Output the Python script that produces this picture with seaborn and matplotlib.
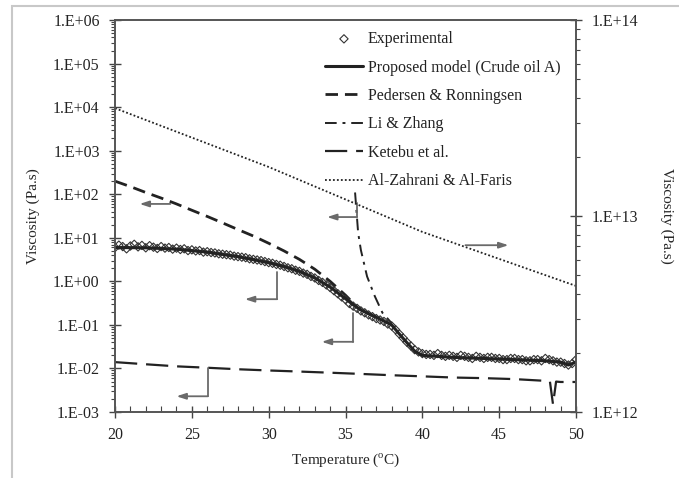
import numpy as np
import pandas as pd
import seaborn as sns
import matplotlib.pyplot as plt
from matplotlib.patches import Rectangle
from matplotlib.ticker import LogLocator, MultipleLocator, NullFormatter

# experimental viscosity of crude oil A (Pa.s) vs temperature (C)
exp_T = [20.0, 20.25, 20.5, 20.75, 21.0, 21.25, 21.5, 21.75, 22.0, 22.25,
         22.5, 22.75, 23.0, 23.25, 23.5, 23.75, 24.0, 24.25, 24.5, 24.75,
         25.0, 25.25, 25.5, 25.75, 26.0, 26.25, 26.5, 26.75, 27.0, 27.25,
         27.5, 27.75, 28.0, 28.25, 28.5, 28.75, 29.0, 29.25, 29.5, 29.75,
         30.0, 30.25, 30.5, 30.75, 31.0, 31.25, 31.5, 31.75, 32.0, 32.25,
         32.5, 32.75, 33.0, 33.25, 33.5, 33.75, 34.0, 34.25, 34.5, 34.75,
         35.0, 35.25, 35.5, 35.75, 36.0, 36.25, 36.5, 36.75, 37.0, 37.25,
         37.5, 37.75, 38.0, 38.25, 38.5, 38.75, 39.0, 39.25, 39.5, 39.75,
         40.0, 40.25, 40.5, 40.75, 41.0, 41.25, 41.5, 41.75, 42.0, 42.25,
         42.5, 42.75, 43.0, 43.25, 43.5, 43.75, 44.0, 44.25, 44.5, 44.75,
         45.0, 45.25, 45.5, 45.75, 46.0, 46.25, 46.5, 46.75, 47.0, 47.25,
         47.5, 47.75, 48.0, 48.25, 48.5, 48.75, 49.0, 49.25, 49.5, 49.75, 50.0]
exp_mu = [6.0, 6.8, 6.3, 5.6, 6.5, 7.1, 6.2, 6.7, 5.9, 6.6,
          6.1, 5.7, 6.3, 5.8, 6.0, 5.5, 5.8, 5.4, 5.6, 5.1,
          5.3, 5.0, 5.1, 4.7, 4.8, 4.6, 4.5, 4.3, 4.2, 4.1,
          4.0, 3.8, 3.7, 3.6, 3.5, 3.3, 3.2, 3.1, 3.0, 2.85,
          2.7, 2.6, 2.45, 2.35, 2.2, 2.05, 1.95, 1.8, 1.7, 1.55,
          1.45, 1.3, 1.2, 1.05, 0.95, 0.83, 0.72, 0.61, 0.52, 0.44,
          0.38, 0.31, 0.27, 0.24, 0.21, 0.19, 0.17, 0.155, 0.14, 0.13,
          0.12, 0.105, 0.095, 0.078, 0.062, 0.050, 0.040, 0.033, 0.027, 0.024,
          0.022, 0.021, 0.021, 0.020, 0.022, 0.020, 0.019, 0.020, 0.019, 0.018,
          0.020, 0.019, 0.018, 0.017, 0.019, 0.018, 0.017, 0.018, 0.018, 0.017,
          0.017, 0.016, 0.016, 0.017, 0.017, 0.016, 0.016, 0.015, 0.015, 0.016,
          0.016, 0.015, 0.017, 0.016, 0.015, 0.014, 0.014, 0.013, 0.012, 0.013, 0.016]

# proposed model (crude oil A)
model_T = [20, 22, 24, 26, 28, 30, 31, 32, 33, 34, 35, 35.5, 36, 37, 38,
           38.5, 39, 39.5, 40, 41, 42, 44, 46, 48, 49, 49.5, 50]
model_mu = [6.0, 5.9, 5.5, 4.7, 3.7, 2.7, 2.2, 1.7, 1.2, 0.74, 0.40, 0.29, 0.22, 0.15, 0.10,
            0.062, 0.039, 0.025, 0.020, 0.019, 0.018, 0.017, 0.016, 0.015, 0.014, 0.012, 0.014]

# Pedersen & Ronningsen
ped_T = [20, 21, 22, 23, 24, 25, 26, 27, 28, 29, 30, 31, 32, 33, 34, 35, 35.5]
ped_mu = [200, 150, 110, 82, 60, 43, 31, 22, 15.5, 11, 7.5, 5.0, 3.2, 1.9, 1.0, 0.48, 0.32]

# Li & Zhang
li_T = [35.62, 35.82, 36.0, 36.4, 36.9, 37.4, 38.0]
li_mu = [110, 13, 5.2, 1.3, 0.46, 0.19, 0.11]

# Ketebu et al.
ket_T = [20, 22, 24, 26, 28, 30, 32, 34, 36, 38, 40, 42, 44, 46, 48,
         48.3, 48.5, 48.7, 49, 50]
ket_mu = [0.0140, 0.0125, 0.0112, 0.0104, 0.0096, 0.0090, 0.0085, 0.0080, 0.0075, 0.0070,
          0.0066, 0.0062, 0.0060, 0.0057, 0.0052, 0.0050, 0.0015, 0.0050, 0.0049, 0.0049]

# Al-Zahrani & Al-Faris (right axis)
zah_T = [20, 30, 40, 50]
zah_mu = [3.55e13, 1.78e13, 8.3e12, 4.4e12]

left_ticks = [1e-3, 1e-2, 1e-1, 1e0, 1e1, 1e2, 1e3, 1e4, 1e5, 1e6]
left_labels = ['1.E-03', '1.E-02', '1.E-01', '1.E+00', '1.E+01',
               '1.E+02', '1.E+03', '1.E+04', '1.E+05', '1.E+06']
right_ticks = [1e12, 1e13, 1e14]
right_labels = ['1.E+12', '1.E+13', '1.E+14']
x_ticks = [20, 25, 30, 35, 40, 45, 50]

sns.set_style('ticks')
plt.rcParams['font.family'] = ['Liberation Serif', 'DejaVu Serif']
plt.rcParams['mathtext.fontset'] = 'custom'
plt.rcParams['mathtext.rm'] = 'Liberation Serif'
plt.rcParams['text.color'] = '#222222'

ink = '#222222'
arrow_col = '#6a6a6a'

fig = plt.figure(figsize=(6.79, 4.78), dpi=100)
ax = fig.add_axes([0.1694, 0.138, 0.679, 0.820])

sns.scatterplot(x=exp_T, y=exp_mu, marker='D', s=18, facecolor='none', edgecolor='#333333',
                linewidth=0.8, ax=ax, label='Experimental', zorder=3)
sns.lineplot(x=model_T, y=model_mu, color=ink, lw=2.2, ax=ax,
             label='Proposed model (Crude oil A)', zorder=4)
sns.lineplot(x=ped_T, y=ped_mu, color=ink, lw=2.0, ax=ax, label='Pedersen & Ronningsen')
ax.lines[-1].set_dashes([4.5, 2.5])
sns.lineplot(x=li_T, y=li_mu, color=ink, lw=1.4, ax=ax, label='Li & Zhang')
ax.lines[-1].set_dashes([6, 3, 1.5, 3])
sns.lineplot(x=ket_T, y=ket_mu, color=ink, lw=1.6, ax=ax, label='Ketebu et al.')
ax.lines[-1].set_dashes([10, 4])

ax.set_yscale('log')
ax.set_xlim(20, 50)
ax.set_ylim(1e-3, 1e6)

ax2 = ax.twinx()
sns.lineplot(x=zah_T, y=zah_mu, color=ink, lw=1.3, ax=ax2, label='Al-Zahrani & Al-Faris')
ax2.lines[-1].set_dashes([1, 1.2])
ax2.set_yscale('log')
ax2.set_ylim(1e12, 1e14)

# ticks
ax.set_xticks(x_ticks)
ax.xaxis.set_minor_locator(MultipleLocator(1))
ax.set_yticks(left_ticks, labels=left_labels)
ax.yaxis.set_minor_locator(LogLocator(base=10, subs=np.arange(2, 10), numticks=100))
ax.yaxis.set_minor_formatter(NullFormatter())
ax2.set_yticks(right_ticks, labels=right_labels)
ax2.yaxis.set_minor_locator(LogLocator(base=10, subs=np.arange(2, 10), numticks=100))
ax2.yaxis.set_minor_formatter(NullFormatter())

for a in (ax, ax2):
    a.tick_params(which='major', direction='inout', length=8, width=1, pad=7,
                  labelsize=11.5, color='#444444', labelcolor=ink)
    for s in a.spines.values():
        s.set_color('#555555')
        s.set_linewidth(1.2)
ax.tick_params(axis='x', which='minor', direction='in', length=4, width=0.8, color='#444444')
ax.tick_params(axis='y', which='minor', direction='out', length=3, width=0.8, color='#444444')
ax2.tick_params(axis='y', which='minor', direction='out', length=3, width=0.8, color='#444444')

# axis labels
ax.set_xlabel('Temperature ($^{\\rm o}$C)', fontsize=11)
ax.xaxis.set_label_coords(0.5, -0.122)
ax.xaxis.label.set_va('center')
ax.set_ylabel('Viscosity (Pa.s)', fontsize=11)
ax.yaxis.set_label_coords(-0.178, 0.5)
ax.yaxis.label.set_va('center')
ax2.set_ylabel('Viscosity (Pa.s)', fontsize=11, rotation=270)
ax2.yaxis.set_label_coords(1.197, 0.5)
ax2.yaxis.label.set_va('center')
ax2.yaxis.label.set_ha('center')

# elbow arrows pointing to the relevant axis
arrow_kw = dict(arrowstyle='-|>,head_length=0.55,head_width=0.18', color=arrow_col,
                lw=1.3, shrinkA=0, shrinkB=0)


def elbow(a, x0, y0, y1, x1):
    if y0 is not None:
        a.plot([x0, x0], [y0, y1], color=arrow_col, lw=1.3)
    a.annotate('', xy=(x1, y1), xytext=(x0, y1), arrowprops=arrow_kw)


elbow(ax, 23.6, None, 60, 21.6)
elbow(ax, 35.75, 63, 30, 33.8)
elbow(ax, 30.55, 1.64, 0.39, 28.45)
elbow(ax, 35.5, 0.19, 0.041, 33.45)
elbow(ax, 26.05, 0.0105, 0.0023, 24.0)
elbow(ax2, 42.8, None, 7.1e12, 45.6)

# legend from both axes
h1, l1 = ax.get_legend_handles_labels()
h2, l2 = ax2.get_legend_handles_labels()
if ax.get_legend() is not None:
    ax.get_legend().remove()
ax2.legend(h1 + h2, l1 + l2, loc='upper left', bbox_to_anchor=(0.455, 0.972),
           frameon=False, fontsize=11.5, handlelength=2.4, handletextpad=0.3,
           labelspacing=0.78, borderpad=0, borderaxespad=0, numpoints=1)

# light frame around the figure
fig.add_artist(Rectangle((12 / 679, -0.2), 1.2, 0.2 + (1 - 6 / 478), transform=fig.transFigure,
                         fill=False, ec='#c8c8c8', lw=1.5))

fig.savefig('out.png', dpi=100)
